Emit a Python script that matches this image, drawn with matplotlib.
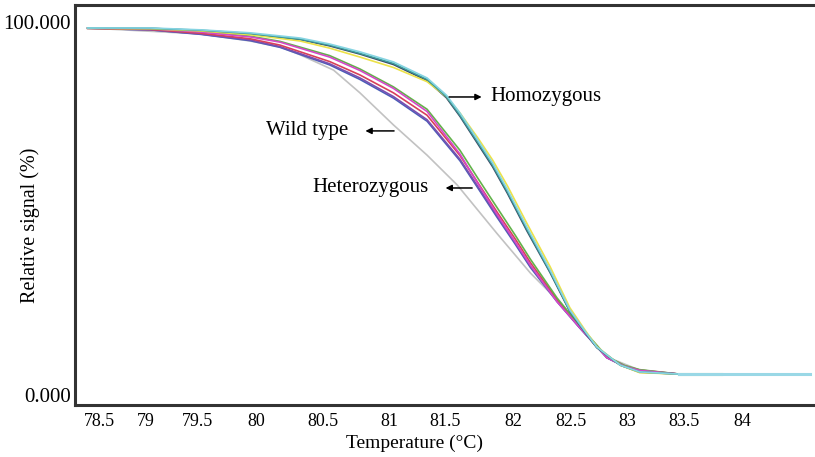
import matplotlib

matplotlib.use("Agg")
import matplotlib.pyplot as plt
import numpy as np

# eixo x do original tem espaçamento irregular entre rótulos -> escala por partes
escala_temp = [77.5, 78.5, 79.0, 79.5, 80.0, 80.5, 81.0, 81.5, 82.0, 82.5, 83.0, 83.5, 84.0, 85.5]
escala_pos = [5, 99, 146, 198, 256, 323, 389, 445, 513, 571, 627, 684, 742, 916]

ticks_x = [78.5, 79, 79.5, 80, 80.5, 81, 81.5, 82, 82.5, 83, 83.5, 84]
rotulos_x = ["78.5", "79", "79.5", "80", "80.5", "81", "81.5", "82", "82.5", "83", "83.5", "84"]
ticks_y = [0, 100]
rotulos_y = ["0.000", "100.000"]

# Homozigotos
t_homo = [78.38, 79.04, 79.52, 79.95, 80.33, 80.55, 80.78, 81.04, 81.34, 81.51, 81.61,
          81.74, 81.85, 81.96, 82.12, 82.32, 82.49, 82.63, 82.73, 82.94, 83.11, 83.46]
homo_ciano = [98.4, 98.4, 97.9, 97.1, 95.7, 94.1, 92.0, 89.3, 85.0, 80.4, 75.6,
              68.4, 62.2, 55.0, 45.0, 33.5, 22.8, 16.9, 12.9, 8.0, 6.2, 5.6]
homo_amarelo = [98.3, 98.2, 97.6, 96.6, 94.9, 93.0, 90.6, 87.8, 84.0, 80.0, 75.6,
                69.0, 63.0, 56.0, 46.0, 34.4, 23.4, 17.2, 13.0, 8.0, 6.0, 5.6]
homo_teal = [98.4, 98.3, 97.8, 96.9, 95.4, 93.8, 91.6, 88.9, 84.6, 80.0, 75.0,
             67.8, 61.6, 54.4, 44.4, 33.0, 22.5, 16.7, 12.8, 8.0, 6.2, 5.6]
homo_escuro = [98.4, 98.3, 97.7, 96.8, 95.3, 93.6, 91.4, 88.6, 84.3, 79.7, 74.7,
               67.4, 61.2, 54.0, 44.0, 32.8, 22.4, 16.6, 12.7, 8.0, 6.1, 5.6]
t_cauda_ciano = [83.46, 84.59]
cauda_ciano = [5.6, 5.6]

# Heterozigotos
t_hetero = [78.38, 79.04, 79.52, 79.95, 80.18, 80.55, 80.78, 81.04, 81.34, 81.61, 81.74,
            81.88, 82.02, 82.15, 82.38, 82.58, 82.82, 82.98, 83.11, 83.46]
het_magenta = [98.4, 98.2, 97.3, 96.0, 94.6, 90.6, 87.0, 82.2, 76.0, 64.6, 56.8,
               48.6, 41.0, 34.8, 25.0, 18.0, 10.0, 7.7, 6.6, 5.6]
het_verde = [98.4, 98.2, 97.4, 96.2, 94.8, 91.0, 87.4, 82.6, 76.6, 65.6, 58.2,
             50.4, 42.8, 36.4, 26.0, 18.5, 10.3, 7.9, 6.8, 5.6]
het_vermelho = [98.3, 98.0, 97.0, 95.5, 93.8, 89.4, 85.8, 81.0, 75.0, 64.2, 57.0,
                49.2, 41.8, 35.5, 25.6, 18.2, 10.2, 7.8, 6.7, 5.6]
het_roxo = [98.3, 97.9, 96.8, 95.2, 93.4, 88.8, 85.0, 80.0, 73.8, 63.2, 56.0,
            48.2, 40.8, 34.6, 25.2, 18.0, 10.0, 7.6, 6.5, 5.6]
het_azul = [98.3, 97.9, 96.7, 95.0, 93.2, 88.5, 84.6, 79.6, 73.4, 62.8, 55.6,
            47.8, 40.4, 34.2, 25.0, 17.9, 10.0, 7.6, 6.5, 5.6]
t_cauda_verde = [83.46, 83.82]
cauda_verde = [5.6, 5.6]

# Selvagem
t_selv = [78.38, 79.52, 79.95, 80.18, 80.33, 80.58, 80.78, 81.04, 81.34, 81.59, 81.88,
          82.15, 82.38, 82.58, 82.82, 83.11, 83.46]
selvagem = [98.4, 96.8, 94.9, 93.3, 91.2, 87.1, 81.0, 72.4, 64.3, 56.3, 43.4,
            32.7, 25.5, 18.2, 10.2, 6.7, 5.6]


def _ida(t):
    return np.interp(t, escala_temp, escala_pos)


def _volta(p):
    return np.interp(p, escala_pos, escala_temp)


plt.rcParams["font.family"] = ["Liberation Serif", "DejaVu Serif"]

fig = plt.figure(figsize=(8.15, 4.57), dpi=100)
ax = fig.add_axes([75 / 815, 1 - 405 / 457, 740 / 815, 400 / 457])
ax.set_xscale("function", functions=(_ida, _volta))

lw = 1.2
ax.plot(t_selv, selvagem, color="#c2c2c2", lw=lw)
ax.plot(t_hetero, het_azul, color="#4a5fb8", lw=lw)
ax.plot(t_hetero, het_roxo, color="#7a4fb0", lw=lw)
ax.plot(t_hetero, het_vermelho, color="#d8405a", lw=lw)
ax.plot(t_hetero, het_verde, color="#62b24a", lw=lw)
ax.plot(t_cauda_verde, cauda_verde, color="#8cc850", lw=2.2)
ax.plot(t_hetero, het_magenta, color="#d448c8", lw=lw)
ax.plot(t_homo, homo_escuro, color="#3b4a66", lw=lw)
ax.plot(t_homo, homo_amarelo, color="#ece24a", lw=lw)
ax.plot(t_homo, homo_teal, color="#3d9c9a", lw=lw)
ax.plot(t_homo, homo_ciano, color="#86d4e2", lw=lw)
ax.plot(t_cauda_ciano, cauda_ciano, color="#9ad8e6", lw=2.2)

seta = dict(arrowstyle="-|>", color="black", lw=1.1, mutation_scale=9)
ax.annotate("", xy=(81.79, 79.9), xytext=(81.51, 79.9), arrowprops=seta)
ax.text(81.83, 79.9, "Homozygous", fontsize=15, va="center", ha="left")
ax.annotate("", xy=(80.80, 70.8), xytext=(81.07, 70.8), arrowprops=seta)
ax.text(80.69, 70.8, "Wild type", fontsize=15, va="center", ha="right")
ax.annotate("", xy=(81.48, 55.5), xytext=(81.72, 55.5), arrowprops=seta)
ax.text(81.35, 55.5, "Heterozygous", fontsize=15, va="center", ha="right")

ax.set_xlim(_volta(75), _volta(815))
ax.set_ylim((395 - 405) / 3.73, (395 - 5) / 3.73)
ax.set_xticks(ticks_x)
ax.set_xticklabels(rotulos_x)
ax.set_yticks(ticks_y)
ax.set_yticklabels(rotulos_y)
ax.tick_params(axis="x", length=0, labelsize=13, pad=6)
ax.tick_params(axis="y", length=0, labelsize=15, pad=3)

for lado in ("left", "top", "bottom"):
    ax.spines[lado].set_linewidth(2.2)
    ax.spines[lado].set_color("#333333")
ax.spines["right"].set_visible(False)

ax.set_xlabel("Temperature (°C)", fontsize=14)
ax.xaxis.set_label_coords((415 - 75) / 740, -0.075)
ax.set_ylabel("Relative signal (%)", fontsize=14.5)
ax.yaxis.set_label_coords(-0.047, 0.45)

fig.savefig("out.png", dpi=100)
